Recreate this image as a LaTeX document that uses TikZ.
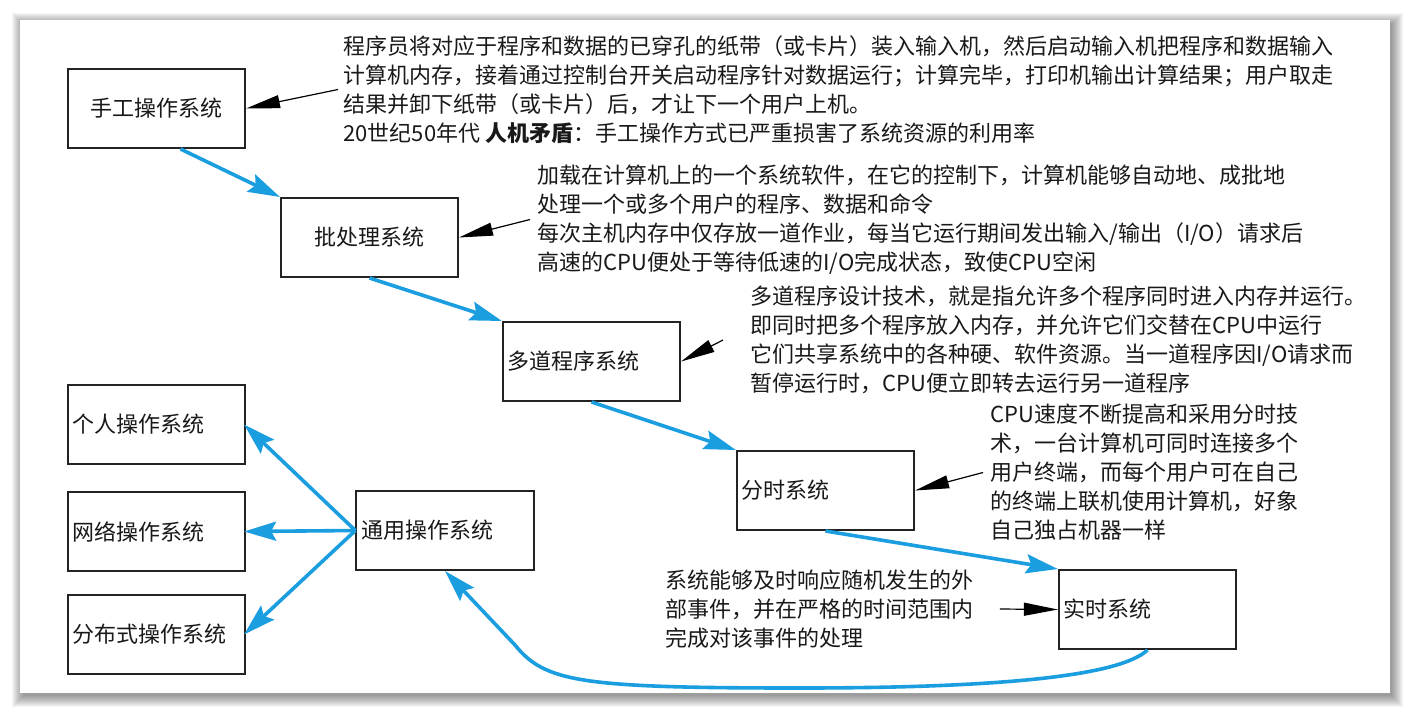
\documentclass[tikz,border=0pt]{standalone}
\usepackage{fontspec}
\newfontfamily\cjk{Noto Sans CJK SC}
\usetikzlibrary{arrows.meta}
\definecolor{flowblue}{RGB}{27,158,224}
\definecolor{boxc}{RGB}{35,35,35}
\definecolor{txt}{RGB}{25,25,25}
\tikzset{
  box/.style={draw=boxc, line width=1pt, minimum width=88.5pt, minimum height=39.5pt,
    inner sep=0pt, font=\cjk\fontsize{11}{14.5}\selectfont, text=txt},
  lbox/.style={box, inner xsep=2.3pt, text width=84pt, align=left},
  note/.style={anchor=west, inner sep=0pt, align=left, text=txt,
    font=\cjk\fontsize{11}{14.5}\selectfont},
  flow/.style={draw=flowblue, line width=1.8pt,
    -{Stealth[length=16pt,width=9.5pt,inset=2.5pt]}},
  pointer/.style={draw=black, line width=0.6pt,
    -{Triangle[length=17pt,width=6.5pt]}}
}
\begin{document}
\begin{tikzpicture}[x=0.5pt,y=-0.5pt]
\useasboundingbox (0,0) rectangle (1410,714);
% frame with soft shadow
\foreach \i in {0,...,11}
  \fill[black,opacity=0.04] (23-\i,24-\i) rectangle (1392+\i,696+\i);
\fill[white] (20,20) rectangle (1390,693);

% boxes
\node[box]  (manual)   at (156.5,108.5) {手工操作系统};
\node[box]  (batch)    at (369.5,237.5) {批处理系统};
\node[lbox] (multi)    at (591.5,361.5) {多道程序系统};
\node[lbox] (time)     at (825.5,490.5) {分时系统};
\node[lbox] (real)     at (1147.5,609.5) {实时系统};
\node[lbox] (general)  at (445,530.5) {通用操作系统};
\node[lbox] (personal) at (156.5,424.5) {个人操作系统};
\node[lbox] (network)  at (156.5,531.5) {网络操作系统};
\node[lbox] (dist)     at (156.5,634.5) {分布式操作系统};

% notes
\node[note] (t1) at (343,89.5) {程序员将对应于程序和数据的已穿孔的纸带（或卡片）装入输入机，然后启动输入机把程序和数据输入\\
计算机内存，接着通过控制台开关启动程序针对数据运行；计算完毕，打印机输出计算结果；用户取走\\
结果并卸下纸带（或卡片）后，才让下一个用户上机。\\
20世纪50年代 \textbf{人机矛盾}：手工操作方式已严重损害了系统资源的利用率};
\node[note] (t2) at (537,219.5) {加载在计算机上的一个系统软件，在它的控制下，计算机能够自动地、成批地\\
处理一个或多个用户的程序、数据和命令\\
每次主机内存中仅存放一道作业，每当它运行期间发出输入/输出（I/O）请求后\\
高速的CPU便处于等待低速的I/O完成状态，致使CPU空闲};
\node[note] (t3) at (750,340) {多道程序设计技术，就是指允许多个程序同时进入内存并运行。\\
即同时把多个程序放入内存，并允许它们交替在CPU中运行\\
它们共享系统中的各种硬、软件资源。当一道程序因I/O请求而\\
暂停运行时，CPU便立即转去运行另一道程序};
\node[note] (t4) at (990,472.5) {CPU速度不断提高和采用分时技\\
术，一台计算机可同时连接多个\\
用户终端，而每个用户可在自己\\
的终端上联机使用计算机，好象\\
自己独占机器一样};
\node[note] (t5) at (665,609) {系统能够及时响应随机发生的外\\
部事件，并在严格的时间范围内\\
完成对该事件的处理};

% black pointers
\draw[pointer] ([xshift=-2.5pt]t1.west) -- (manual.east);
\draw[pointer] ([xshift=-3.5pt]t2.west) -- (batch.east);
\draw[pointer] ([xshift=-13.5pt]t3.west) -- (multi.east);
\draw[pointer] ([xshift=-3.5pt]t4.west) -- (time.east);
\draw[pointer] ([xshift=13pt]t5.east) -- (real.west);

% blue flow
\draw[flow] ([xshift=12pt]manual.south) -- (batch.north west);
\draw[flow] (batch.south) -- (multi.north west);
\draw[flow] (multi.south) -- (time.north west);
\draw[flow] (time.south) -- (real.north west);
\draw[flow] (real.south) .. controls (1120,676) and (1000,688) .. (800,688)
  .. controls (580,688) and (545,682) .. (515,645) -- (general.south);
\draw[flow] (general.west) -- ([xshift=-1pt]personal.east);
\draw[flow] (general.west) -- ([xshift=-1pt]network.east);
\draw[flow] (general.west) -- ([xshift=-1pt]dist.east);
\end{tikzpicture}
\end{document}
